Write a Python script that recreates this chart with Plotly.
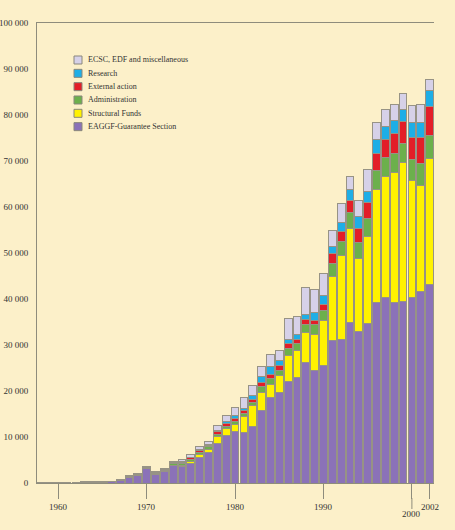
import plotly.graph_objects as go

# ---------------- data ----------------
years = list(range(1958, 2003))

eaggf = [0, 0, 0, 0, 30, 60, 80, 120, 250, 600,
         1230, 1740, 3050, 1950, 2600, 3700, 3500, 4300, 5550, 6600,
         8600, 10300, 11150, 11000, 12250, 15730, 18500, 19700, 22100, 22950,
         26300, 24410, 25500, 30940, 31300, 34930, 33040, 34570, 39280, 40350,
         39300, 39500, 40400, 41700, 43200]
structural = [0, 0, 0, 5, 5, 10, 10, 15, 15, 20,
              30, 40, 60, 70, 100, 150, 350, 450, 700, 700,
              1460, 1450, 1650, 3560, 4550, 3970, 3000, 3700, 5650, 5880,
              6400, 7980, 9720, 14060, 18120, 20350, 15660, 19120, 24560, 26230,
              28160, 30200, 25470, 22930, 27380]
administration = [10, 12, 15, 18, 20, 25, 28, 30, 35, 40,
                  60, 70, 110, 120, 150, 300, 350, 400, 450, 550,
                  540, 550, 670, 570, 650, 1230, 1200, 1100, 1450, 1540,
                  1830, 1960, 2240, 2610, 3030, 3430, 3540, 3850, 4060, 4120,
                  4210, 4130, 4500, 4720, 5070]
external = [0, 0, 0, 0, 0, 5, 5, 10, 10, 20,
            40, 50, 80, 90, 100, 150, 250, 300, 400, 350,
            500, 700, 580, 740, 730, 870, 950, 1100, 1170, 930,
            970, 1080, 1450, 2320, 2180, 2740, 3130, 3390, 3770, 4000,
            4330, 4710, 4780, 5730, 6150]
research = [10, 15, 25, 35, 50, 70, 70, 60, 60, 90,
            150, 130, 150, 120, 100, 150, 200, 150, 150, 250,
            300, 300, 580, 360, 790, 1300, 1780, 1050, 780, 1000,
            1170, 1590, 1960, 1440, 1950, 2350, 2530, 2520, 2900, 2900,
            2900, 2680, 3180, 3250, 3630]
ecsc = [10, 13, 20, 30, 40, 50, 57, 45, 50, 100,
        80, 70, 100, 100, 150, 250, 450, 550, 700, 600,
        1100, 1400, 1770, 2320, 2180, 2180, 2540, 2150, 4650, 3850,
        5730, 5150, 4710, 3630, 4220, 2780, 3470, 4810, 3840, 3700,
        3400, 3480, 3690, 4060, 2370]

series_names = ["EAGGF-Guarantee Section", "Structural Funds", "Administration",
                "External action", "Research", "ECSC, EDF and miscellaneous"]
series_values = [eaggf, structural, administration, external, research, ecsc]
series_colors = ["#8b72b8", "#fff200", "#6cb04c", "#e31e28", "#1eaee6", "#d6d1e8"]

y_ticks = list(range(0, 100001, 10000))
x_tick_vals = [1960, 1970, 1980, 1990, 2000, 2002]
x_tick_text = ["1960", "1970", "1980", "1990", "2000", "2002"]

# ---------------- geometry helpers ----------------
W, H = 455, 530
ML, MR, MT, MB = 37, 21, 23, 47
PW, PH = W - ML - MR, H - MT - MB
BG = "#fcf0c9"
AXC = "#8e8c7c"
FONT = "Liberation Serif"


def px_x(p):
    return (p - ML) / PW


def px_y(p):
    return 1 - (p - MT) / PH


fig = go.Figure()
for name, vals, col in zip(series_names, series_values, series_colors):
    fig.add_trace(go.Bar(
        x=years, y=vals, name=name,
        marker=dict(color=col, line=dict(color="#979385", width=1)),
    ))

shapes = []
annotations = []

# x tick labels (2000 set lower), extended 2000 tick
for v, t in zip(x_tick_vals, x_tick_text):
    off = 31 if v == 2000 else 24
    annotations.append(dict(
        x=v, xref="x", y=-off / PH, yref="paper", text=t, showarrow=False,
        xanchor="center", yanchor="middle",
        font=dict(family=FONT, size=9, color="#333333")))
    if v == 2000:
        shapes.append(dict(type="line", xref="x", yref="paper", x0=v, x1=v,
                           y0=-15 / PH, y1=-26 / PH,
                           line=dict(color=AXC, width=1)))

# manual compact legend (top item = last stacked series)
for i, (name, col) in enumerate(zip(series_names[::-1], series_colors[::-1])):
    cy = 60 + 13.33 * i
    shapes.append(dict(type="rect", xref="paper", yref="paper",
                       x0=px_x(74), x1=px_x(82), y0=px_y(cy + 4), y1=px_y(cy - 4),
                       fillcolor=col, line=dict(color="#8a877c", width=1)))
    annotations.append(dict(
        x=px_x(85.5), xref="paper", y=px_y(cy), yref="paper", text=name,
        showarrow=False, xanchor="left", yanchor="middle",
        font=dict(family=FONT, size=8, color="#333333")))

fig.update_layout(
    width=W, height=H,
    margin=dict(l=ML, r=MR, t=MT, b=MB, pad=0, autoexpand=False),
    paper_bgcolor=BG, plot_bgcolor=BG,
    barmode="stack", bargap=0.12,
    showlegend=False,
    separators=". ",
    font=dict(family=FONT, size=9, color="#333333"),
    shapes=shapes, annotations=annotations,
    xaxis=dict(range=[1957.6, 2002.5], showgrid=False, zeroline=False,
               showline=True, linecolor=AXC, linewidth=1, mirror=True,
               ticks="outside", ticklen=15, tickcolor=AXC, tickwidth=1,
               tickvals=x_tick_vals, showticklabels=False, automargin=False),
    yaxis=dict(range=[0, 100000], showgrid=False, zeroline=False,
               showline=True, linecolor=AXC, linewidth=1,
               ticks="", tickvals=y_ticks, tickformat=",d",
               ticklabelstandoff=6, automargin=False,
               tickfont=dict(family=FONT, size=9, color="#333333")),
)

fig.write_html("out.html")
